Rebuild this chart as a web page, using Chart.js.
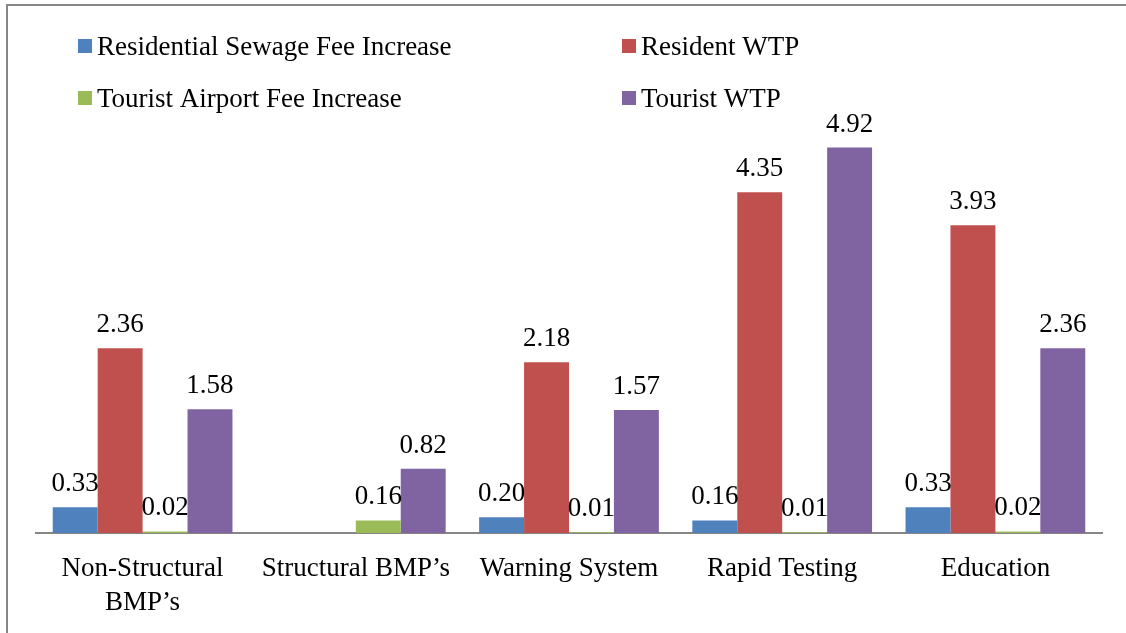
<!DOCTYPE html>
<html>
<head>
<meta charset="utf-8">
<script src="https://cdn.jsdelivr.net/npm/chart.js@4"></script>
<style>
  html, body { margin: 0; padding: 0; background: #fff; }
  #wrap { position: relative; width: 1126px; height: 633px; overflow: hidden; }
  #frame { position: absolute; left: 6px; top: 4px; width: 1200px; height: 700px;
           border-left: 2px solid #868686; border-top: 2px solid #868686; }
  #chart { position: absolute; left: 0; top: 0; }
</style>
</head>
<body>
<div id="wrap">
  <div id="frame"></div>
  <canvas id="chart" width="1126" height="633"></canvas>
</div>
<script>
// datos del gráfico
const categories = [['Non-Structural', 'BMP’s'], 'Structural BMP’s', 'Warning System', 'Rapid Testing', 'Education'];
const seriesNames = ['Residential Sewage Fee Increase', 'Resident WTP', 'Tourist Airport Fee Increase', 'Tourist WTP'];
const sewageFee = [0.33, null, 0.20, 0.16, 0.33];
const residentWtp = [2.36, null, 2.18, 4.35, 3.93];
const airportFee = [0.02, 0.16, 0.01, 0.01, 0.02];
const touristWtp = [1.58, 0.82, 1.57, 4.92, 2.36];
const colors = ['#4F81BD', '#C0504D', '#9BBB59', '#8064A2'];

const FONT = '"Liberation Serif", "Times New Roman", serif';

// etiquetas de valor encima de cada barra
const valueLabels = {
    id: 'valueLabels',
    afterDatasetsDraw(chart) {
        const ctx = chart.ctx;
        ctx.save();
        ctx.font = '27px ' + FONT;
        ctx.fillStyle = '#000';
        ctx.textAlign = 'center';
        ctx.textBaseline = 'alphabetic';
        chart.data.datasets.forEach((ds, i) => {
            chart.getDatasetMeta(i).data.forEach((bar, j) => {
                const v = ds.data[j];
                if (v === null) return;
                ctx.fillText(v.toFixed(2), bar.x, bar.y - 16);
            });
        });
        ctx.restore();
    }
};

// leyenda en dos columnas
const twoColLegend = {
    id: 'twoColLegend',
    afterDraw(chart) {
        const ctx = chart.ctx;
        const cols = [78, 622];
        const rows = [55, 107];
        ctx.save();
        ctx.font = '27px ' + FONT;
        ctx.textBaseline = 'alphabetic';
        ctx.textAlign = 'left';
        chart.data.datasets.forEach((ds, i) => {
            const x = cols[i % 2];
            const y = rows[Math.floor(i / 2)];
            ctx.fillStyle = ds.backgroundColor;
            ctx.fillRect(x, y - 16, 14, 14);
            ctx.fillStyle = '#000';
            ctx.fillText(ds.label, x + 19, y);
        });
        ctx.restore();
    }
};

const datasets = [sewageFee, residentWtp, airportFee, touristWtp].map((values, i) => ({
    label: seriesNames[i],
    data: values,
    backgroundColor: colors[i],
    borderWidth: 0,
    barPercentage: 1,
    categoryPercentage: 0.843
}));

new Chart(document.getElementById('chart').getContext('2d'), {
    type: 'bar',
    data: { labels: categories, datasets: datasets },
    options: {
        responsive: false,
        animation: false,
        layout: { padding: { left: 36, right: 24, top: 63, bottom: 0 } },
        plugins: {
            legend: { display: false },
            tooltip: { enabled: false }
        },
        scales: {
            x: {
                grid: { display: false },
                border: { display: true, color: '#868686', width: 2 },
                ticks: {
                    color: '#000',
                    padding: 11,
                    maxRotation: 0,
                    autoSkip: false,
                    font: { family: FONT, size: 27, lineHeight: 1.26 }
                },
                afterFit(scale) { scale.height = 100; }
            },
            y: {
                display: false,
                min: 0,
                max: 6
            }
        }
    },
    plugins: [valueLabels, twoColLegend]
});
</script>
</body>
</html>
